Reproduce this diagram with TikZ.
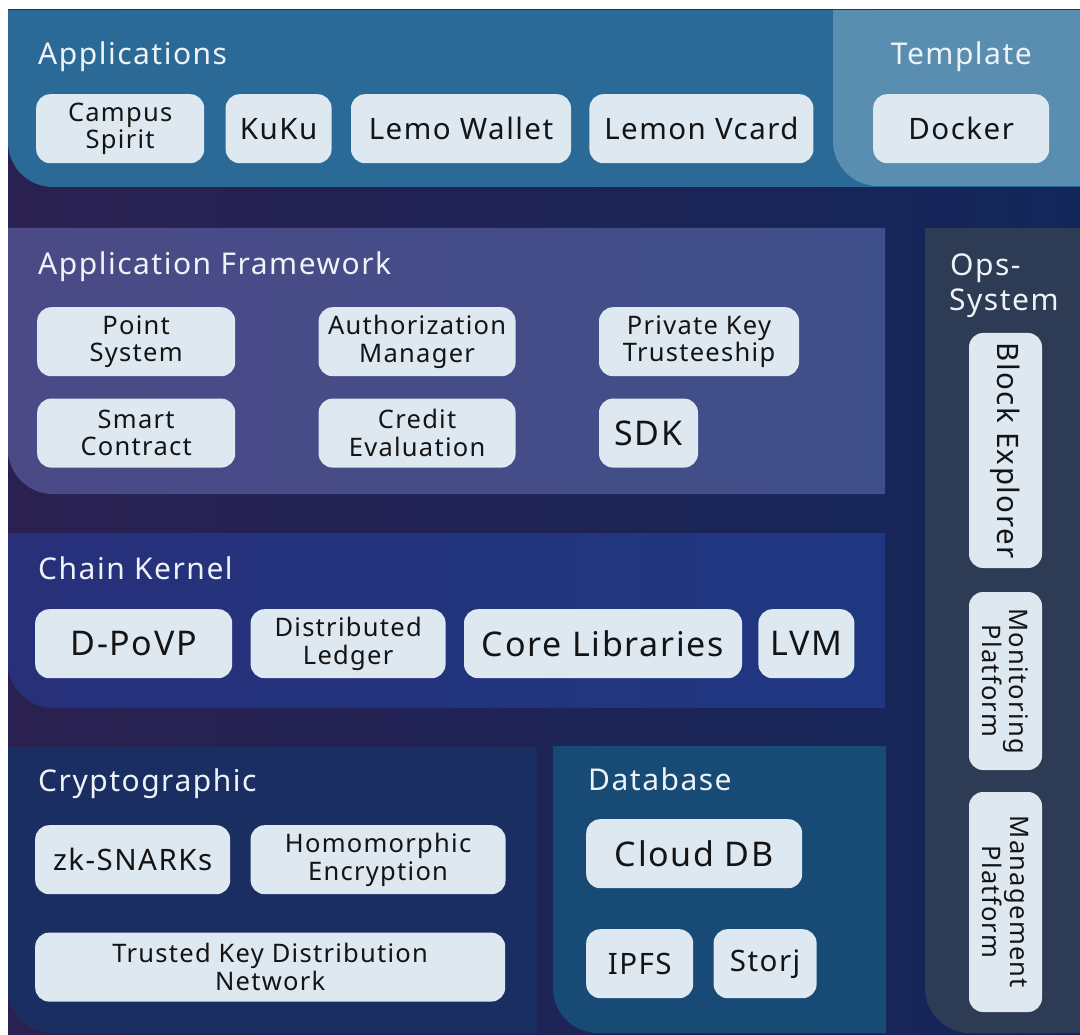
\documentclass[tikz,border=0pt]{standalone}
\usepackage{fontspec}
\setmainfont{Noto Sans}[LetterSpace=5]
\usetikzlibrary{positioning}

\definecolor{bgleft}{HTML}{2A2150}
\definecolor{bgright}{HTML}{13265A}
\definecolor{appcol}{HTML}{2B6996}
\definecolor{tplcol}{HTML}{5A8EB0}
\definecolor{fwleft}{HTML}{4B4A86}
\definecolor{fwright}{HTML}{3F4F89}
\definecolor{ckleft}{HTML}{28307A}
\definecolor{ckright}{HTML}{1F3781}
\definecolor{cryptocol}{HTML}{1B2E62}
\definecolor{dbcol}{HTML}{174A74}
\definecolor{opscol}{HTML}{2E3B55}
\definecolor{boxcol}{HTML}{DDE8F0}
\definecolor{titlecol}{HTML}{EEF3F8}

\newcommand{\titlesize}{\fontsize{30}{35}\selectfont}
\newcommand{\bigsize}{\fontsize{29.5}{33}\selectfont}
\newcommand{\largesize}{\fontsize{34}{38}\selectfont}
\newcommand{\smallsize}{\fontsize{25.5}{27.5}\selectfont}

\tikzstyle{layertitle} = [text=titlecol, font=\titlesize, inner sep=0pt, anchor=base west]
\tikzstyle{module} = [rectangle, rounded corners=14pt, fill=boxcol, text=black!92, inner sep=0pt, minimum height=69pt, align=center, font=\bigsize]
\tikzstyle{module2} = [module, font=\smallsize]
\tikzstyle{module3} = [module, font=\largesize]
\tikzstyle{opsbox} = [module, rotate=-90, minimum height=73pt]

\begin{document}
\begin{tikzpicture}[x=1pt, y=-1pt]
\useasboundingbox (0,0) rectangle (1080,1035);

%Layers
\fill[white] (0,0) rectangle (1080,1035);
\shade[left color=bgleft, right color=bgright] (8,10) rectangle (1080,1035);
\fill[appcol] (8,10) -- (1080,10) -- (1080,187) -- (53,187) .. controls (28,187) and (8,167) .. (8,142) -- cycle;
\fill[tplcol] (833,10) -- (1080,10) -- (1080,186) -- (878,186) .. controls (853,186) and (833,166) .. (833,141) -- cycle;
\shade[left color=fwleft, right color=fwright] (8,228) -- (885,228) -- (885,494) -- (53,494) .. controls (28,494) and (8,474) .. (8,449) -- cycle;
\shade[left color=ckleft, right color=ckright] (8,533) -- (885,533) -- (885,708) -- (53,708) .. controls (28,708) and (8,688) .. (8,663) -- cycle;
\fill[cryptocol] (8,747) -- (537,747) -- (537,1033) -- (53,1033) .. controls (28,1033) and (8,1013) .. (8,988) -- cycle;
\fill[dbcol] (553,746) -- (886,746) -- (886,1033) -- (598,1033) .. controls (573,1033) and (553,1013) .. (553,988) -- cycle;
\fill[opscol] (925,228) -- (1080,228) -- (1080,1033) -- (970,1033) .. controls (945,1033) and (925,1013) .. (925,988) -- cycle;

%Titles
\node (apptitle) [layertitle] at (38,65) {Applications};
\node (tpltitle) [layertitle, anchor=base east] at (1032,65) {Template};
\node (fwtitle) [layertitle] at (38,275) {Application Framework};
\node (opstitle) [layertitle] at (950,276) {Ops-};
\node (opstitle2) [layertitle] at (949,311) {System};
\node (cktitle) [layertitle] at (38,579) {Chain Kernel};
\node (cryptotitle) [layertitle] at (38,791) {Cryptographic};
\node (dbtitle) [layertitle] at (588,790) {Database};

%Applications
\node (campus) [module2, minimum width=168pt, anchor=north west] at (36,94) {Campus\\Spirit};
\node (kuku) [module, minimum width=106pt, right=21pt of campus] {KuKu};
\node (lemo) [module, minimum width=220pt, right=19pt of kuku] {Lemo Wallet};
\node (vcard) [module, minimum width=224pt, right=18pt of lemo] {Lemon Vcard};
\node (docker) [module, minimum width=176pt, anchor=north west] at (873,94) {Docker};

%Application Framework
\node (point) [module2, minimum width=198pt, anchor=north west] at (37,307) {Point\\System};
\node (auth) [module2, minimum width=197pt, right=83pt of point] {Authorization\\Manager};
\node (pkey) [module2, minimum width=200pt, right=83pt of auth] {Private Key\\Trusteeship};
\node (smart) [module2, minimum width=198pt, below=22pt of point] {Smart\\Contract};
\node (credit) [module2, minimum width=197pt, below=22pt of auth] {Credit\\Evaluation};
\node (sdk) [module3, minimum width=99pt, below=22pt of pkey.south west, anchor=north west] {SDK};

%Chain Kernel
\node (dpovp) [module3, minimum width=197pt, anchor=north west] at (35,609) {D-PoVP};
\node (ledger) [module2, minimum width=195pt, right=18pt of dpovp] {Distributed\\Ledger};
\node (core) [module3, minimum width=278pt, right=18pt of ledger] {Core Libraries};
\node (lvm) [module3, minimum width=96pt, right=16pt of core] {LVM};

%Cryptographic
\node (zk) [module, minimum width=195pt, anchor=north west] at (35,825) {zk-SNARKs};
\node (homo) [module2, minimum width=255pt, right=20pt of zk] {Homomorphic\\Encryption};
\node (tkdn) [module2, minimum width=470pt, below=38pt of zk.south west, anchor=north west] {Trusted Key Distribution\\Network};

%Database
\node (cloud) [module3, minimum width=216pt, anchor=north west] at (586,819) {Cloud DB};
\node (ipfs) [module, minimum width=107pt, anchor=north west] at (586,929) {IPFS};
\node (storj) [module, minimum width=103pt, right=20pt of ipfs] {Storj};

%Ops-System
\node (explorer) [opsbox, minimum width=235pt] at (1005.5,450.5) {Block Explorer};
\node (monitor) [opsbox, font=\smallsize, minimum width=178pt] at (1005.5,681) {Monitoring\\Platform};
\node (mgmt) [opsbox, font=\smallsize, minimum width=220pt] at (1005.5,902) {Management\\Platform};

\end{tikzpicture}
\end{document}
